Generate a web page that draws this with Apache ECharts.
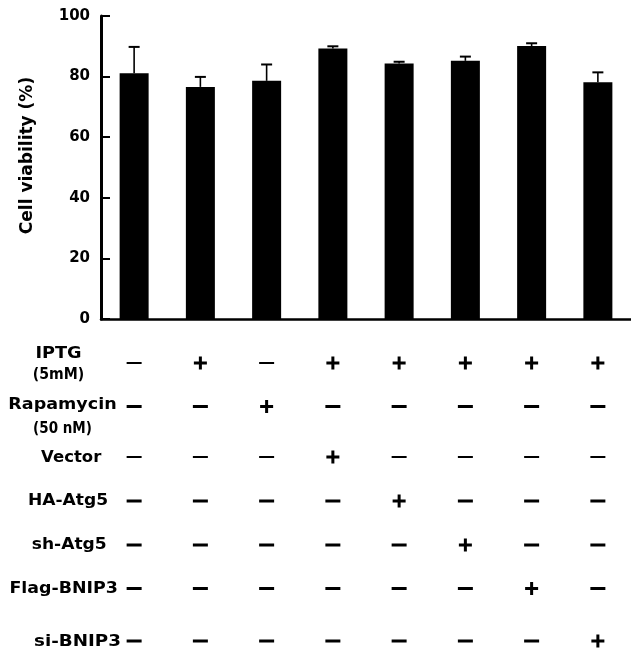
<!DOCTYPE html>
<html>
<head>
<meta charset="utf-8">
<script src="https://cdn.jsdelivr.net/npm/echarts@6/dist/echarts.min.js"></script>
<style>
  html, body { margin: 0; padding: 0; background: #fff; }
  #chart { width: 631px; height: 652px; }
</style>
</head>
<body>
<div id="chart"></div>
<script>
// ---------------- DATA ----------------
const categories = ['G1', 'G2', 'G3', 'G4', 'G5', 'G6', 'G7', 'G8'];
const viability = [81.1, 76.6, 78.6, 89.3, 84.3, 85.2, 90.1, 78.1];
const errorSD = [8.7, 3.3, 5.4, 0.7, 0.6, 1.4, 0.9, 3.3];
const yMin = 0, yMax = 100, yInterval = 20;
const yAxisTitle = 'Cell viability (%)';

const rowLabels = ['IPTG', 'Rapamycin', 'Vector', 'HA-Atg5', 'sh-Atg5', 'Flag-BNIP3', 'si-BNIP3'];
const rowSubLabels = ['(5mM)', '(50 nM)', '', '', '', '', ''];
const iptg      = ['-', '+', '-', '+', '+', '+', '+', '+'];
const rapamycin = ['-', '-', '+', '-', '-', '-', '-', '-'];
const vector    = ['-', '-', '-', '+', '-', '-', '-', '-'];
const haAtg5    = ['-', '-', '-', '-', '+', '-', '-', '-'];
const shAtg5    = ['-', '-', '-', '-', '-', '+', '-', '-'];
const flagBnip3 = ['-', '-', '-', '-', '-', '-', '+', '-'];
const siBnip3   = ['-', '-', '-', '-', '-', '-', '-', '+'];
const treatmentRows = [iptg, rapamycin, vector, haAtg5, shAtg5, flagBnip3, siBnip3];

// ---------------- LAYOUT ----------------
const FONT = '"DejaVu Sans", "Liberation Sans", Arial, sans-serif';
const plotLeft = 101, plotTop = 16, plotWidth = 542, plotHeight = 303;
const rowY = [363, 406.5, 457, 501, 545, 588.5, 641];
const dashThick = [2, 3, 2, 3, 3, 3, 3];
// label layout: [centerX, yMain, scaleX, fontSize, ySub, subScaleX]
const labelLayout = [
  [58.5, 354.5, 1.18, 15, 375, 0.94],
  [62.5, 405, 1.17, 15, 429, 0.9],
  [71.2, 458, 1.10, 15],
  [68, 501, 1.14, 15],
  [69.2, 545, 1.14, 15],
  [63.7, 589, 1.16, 15],
  [77.5, 642, 1.22, 15]
];
const plusPath = 'path://M5,0h3v5h5v3h-5v5h-3v-5h-5v-3h5z';

const grids = [{ left: plotLeft, top: plotTop, width: plotWidth, height: plotHeight }];
const xAxes = [{
  type: 'category', gridIndex: 0, data: categories, boundaryGap: true,
  axisLine: { show: true, onZero: false, lineStyle: { color: '#000', width: 2.5 } },
  axisTick: { show: false }, axisLabel: { show: false }, splitLine: { show: false }
}];
const yAxes = [{
  type: 'value', gridIndex: 0, min: yMin, max: yMax, interval: yInterval,
  name: yAxisTitle, nameLocation: 'middle', nameRotate: 90, nameGap: 65,
  nameTextStyle: { fontFamily: FONT, fontWeight: 'bold', fontSize: 17, color: '#000', padding: [0, 0, 0, 24] },
  axisLine: { show: true, lineStyle: { color: '#000', width: 3 } },
  axisTick: { show: true, inside: true, length: 9, lineStyle: { color: '#000', width: 2 } },
  axisLabel: { fontFamily: FONT, fontWeight: 'bold', fontSize: 15, color: '#000', margin: 11 },
  splitLine: { show: false }
}];

const series = [
  {
    type: 'bar', xAxisIndex: 0, yAxisIndex: 0, data: viability, barWidth: 29,
    itemStyle: { color: '#000' }, silent: true
  },
  {
    type: 'custom', xAxisIndex: 0, yAxisIndex: 0,
    data: viability.map((v, i) => [i, v, v + errorSD[i]]),
    renderItem: function (params, api) {
      const base = api.coord([api.value(0), api.value(1)]);
      const top = api.coord([api.value(0), api.value(2)]);
      const half = 5.5;
      return {
        type: 'group',
        children: [
          { type: 'line', shape: { x1: base[0], y1: base[1], x2: top[0], y2: top[1] }, style: { stroke: '#000', lineWidth: 1.6 } },
          { type: 'line', shape: { x1: top[0] - half, y1: top[1], x2: top[0] + half, y2: top[1] }, style: { stroke: '#000', lineWidth: 2 } }
        ]
      };
    },
    z: 5, silent: true
  }
];

treatmentRows.forEach((row, r) => {
  const gi = r + 1;
  grids.push({ left: plotLeft, top: rowY[r] - 10, width: plotWidth, height: 20 });
  xAxes.push({ type: 'category', gridIndex: gi, data: categories, boundaryGap: true, show: false });
  yAxes.push({ type: 'value', gridIndex: gi, min: -1, max: 1, show: false });
  series.push({
    type: 'scatter', xAxisIndex: gi, yAxisIndex: gi, silent: true,
    data: row.map((s, i) => ({
      value: [i, 0],
      symbol: s === '+' ? plusPath : 'rect',
      symbolSize: s === '+' ? [13, 13] : [15, dashThick[r]]
    })),
    itemStyle: { color: '#000', opacity: 1 }
  });
});

const graphics = [];
rowLabels.forEach((lab, r) => {
  const L = labelLayout[r];
  graphics.push({
    type: 'text', x: L[0], y: L[1], scaleX: L[2], silent: true,
    style: { text: lab, font: 'bold ' + L[3] + 'px ' + FONT, fill: '#000',
      textAlign: 'center', textVerticalAlign: 'middle', align: 'center', verticalAlign: 'middle' }
  });
  if (rowSubLabels[r]) {
    graphics.push({
      type: 'text', x: L[0], y: L[4], scaleX: L[5], silent: true,
      style: { text: rowSubLabels[r], font: 'bold 15px ' + FONT, fill: '#000',
        textAlign: 'center', textVerticalAlign: 'middle', align: 'center', verticalAlign: 'middle' }
    });
  }
});

const chart = echarts.init(document.getElementById('chart'), null, { renderer: 'canvas' });
chart.setOption({
  animation: false,
  backgroundColor: '#fff',
  grid: grids,
  xAxis: xAxes,
  yAxis: yAxes,
  series: series,
  graphic: graphics
});
</script>
</body>
</html>
